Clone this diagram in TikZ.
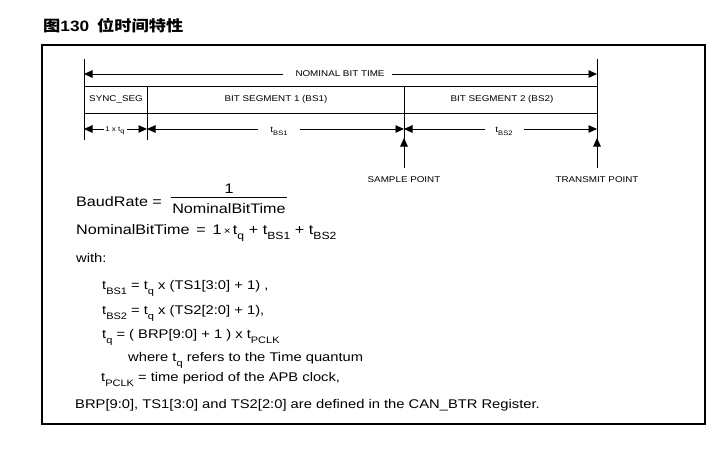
\documentclass[tikz,border=0pt]{standalone}
\usepackage{fontspec}
\setmainfont{Liberation Sans}[FakeStretch=1.17]
\newfontfamily\cjk{Noto Sans CJK SC}[FakeStretch=1.15]
\newfontfamily\titlelat{Liberation Sans}[FakeStretch=1.15]
\usetikzlibrary{arrows.meta}
\newcommand\bsub[1]{\raisebox{-0.4em}{\fontsize{9.4}{9.4}\selectfont #1}}
\newcommand\esub[1]{\raisebox{-0.4em}{\fontsize{10.4}{10.4}\selectfont #1}}
\newcommand\ssub[1]{\raisebox{-0.35em}{\fontsize{6.5}{6.5}\selectfont #1}}
\begin{document}
\begin{tikzpicture}[x=1pt,y=-1pt,
  ln/.style={line width=0.9pt},
  tip/.style={ln,-{Triangle[length=8.5pt,width=7.5pt]}},
  lbl/.style={font=\fontsize{8.4}{9}\selectfont, inner sep=0pt},
  txt/.style={font=\fontsize{12.6}{15}\selectfont, inner sep=0pt, anchor=base west},
  eqn/.style={font=\fontsize{13.8}{16}\selectfont, inner sep=0pt, anchor=base west},
  frame/.style={line width=1.3pt}]
\useasboundingbox (0,0) rectangle (721,456);
% title
\node[inner sep=0pt, anchor=west] (ttl1) at (43,26) {\cjk\bfseries\fontsize{15}{17}\selectfont 图\titlelat\bfseries 130};
\node[inner sep=0pt, anchor=west] (ttl2) at (97,26) {\cjk\bfseries\fontsize{15}{17}\selectfont 位时间特性};
% frame
\draw[frame] (42,45) rectangle (705,424);
% key coordinates
\coordinate (L0) at (84,59);   \coordinate (L1) at (84,140);
\coordinate (S0) at (147,86);  \coordinate (S1) at (147,140);
\coordinate (P0) at (404,86);  \coordinate (P1) at (404,168);
\coordinate (R0) at (597,59);  \coordinate (R1) at (597,168);
% vertical lines
\draw[ln] (L0) -- (L1);
\draw[ln] (S0) -- (S1);
\draw[ln] (P0) -- (P1);
\draw[ln] (R0) -- (R1);
% segment box
\draw[ln] (84,86) -- (597,86);
\draw[ln] (84,113) -- (597,113);
\node[lbl] (sync) at (116,99) {SYNC\_SEG};
\node[lbl] (bs1) at (276,99) {BIT SEGMENT 1 (BS1)};
\node[lbl] (bs2) at (502,99) {BIT SEGMENT 2 (BS2)};
% nominal bit time
\node[lbl] (nbt) at (340,74) {NOMINAL BIT TIME};
\coordinate (n1) at (283,74); \coordinate (n2) at (392,74);
\draw[tip] (n1) -- (L0 |- n1);
\draw[tip] (n2) -- (R0 |- n2);
% row 2
\node[lbl, font=\fontsize{6.8}{8}\selectfont] (tq) at (115,131) {1 x t\ssub{q}};
\node[lbl] (tb1) at (279,131) {t\ssub{BS1}};
\node[lbl] (tb2) at (504,131) {t\ssub{BS2}};
\coordinate (a1) at (104,129); \coordinate (a2) at (127,129);
\coordinate (b1) at (258,129); \coordinate (b2) at (300,129);
\coordinate (c1) at (485,129); \coordinate (c2) at (524,129);
\draw[tip] (a1) -- (L0 |- a1);
\draw[tip] (a2) -- (S0 |- a2);
\draw[tip] (b1) -- (S0 |- b1);
\draw[tip] (b2) -- (P0 |- b2);
\draw[tip] (c1) -- (P0 |- c1);
\draw[tip] (c2) -- (R0 |- c2);
% up arrows
\coordinate (up1) at (404,138); \coordinate (up2) at (597,138);
\draw[tip] (P1) -- (up1);
\draw[tip] (R1) -- (up2);
\node[lbl] (sp) at (404,180) {SAMPLE POINT};
\node[lbl] (tp) at (597,180) {TRANSMIT POINT};
% formulas
\node[eqn] (baud) at (76,206) {BaudRate =};
\node[eqn, anchor=base] (num) at (229,193) {1};
\coordinate (f1) at (171,197); \coordinate (f2) at (287,197);
\draw[line width=0.7pt] (f1) -- (f2);
\node[eqn, anchor=base] (den) at (229,213) {NominalBitTime};
\node[eqn] (nom) at (76,234) {NominalBitTime\, = \,1\,{\fontsize{10}{10}\selectfont×}\,t\esub{q}\,\,+\,\,t\esub{BS1}\,\,+\,\,t\esub{BS2}};
\node[txt] (with) at (76,262) {with:};
\node[txt] (e1) at (102,289) {t\bsub{BS1} = t\bsub{q} x (TS1[3:0] + 1) ,};
\node[txt] (e2) at (102,314) {t\bsub{BS2} = t\bsub{q} x (TS2[2:0] + 1),};
\node[txt] (e3) at (102,338) {t\bsub{q} = ( BRP[9:0] + 1 ) x t\bsub{PCLK}};
\node[txt] (e4) at (128,361) {where t\bsub{q} refers to the Time quantum};
\node[txt] (e5) at (101,381) {t\bsub{PCLK} = time period of the APB clock,};
\node[txt] (e6) at (75,408) {BRP[9:0], TS1[3:0] and TS2[2:0] are defined in the CAN\_BTR Register.};
\end{tikzpicture}
\end{document}
